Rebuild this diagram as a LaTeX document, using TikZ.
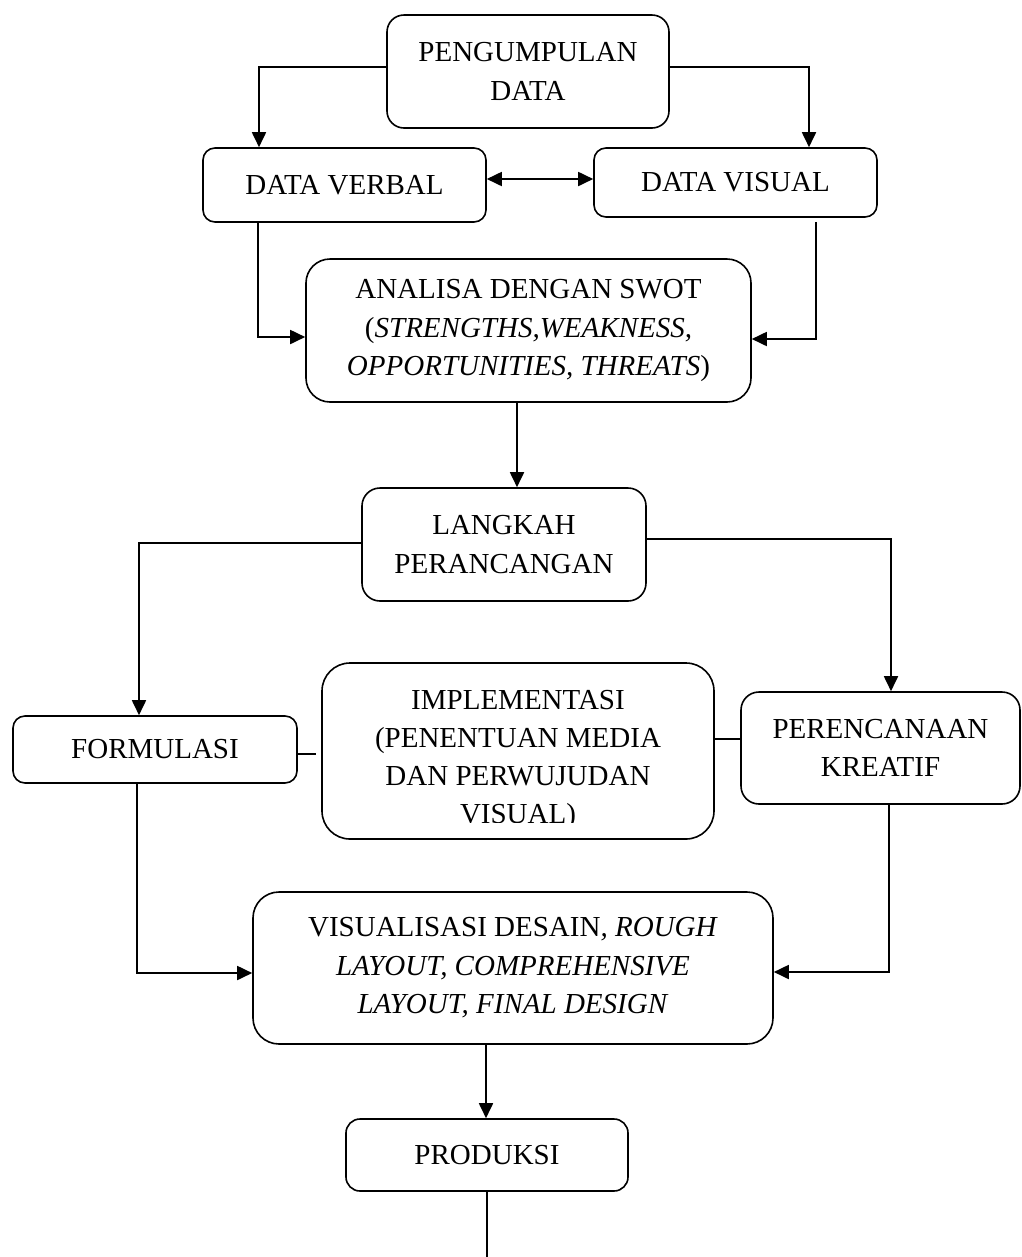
\documentclass[tikz,border=0pt]{standalone}
\usepackage{fontspec}
\setmainfont{Liberation Serif}
\usetikzlibrary{arrows.meta}
\tikzset{
  box/.style={draw, line width=1.6bp, align=center, inner sep=0pt,
    font=\fontsize{29bp}{38.5bp}\selectfont},
  txt/.style={align=center, inner sep=0pt, font=\fontsize{29bp}{38.2bp}\selectfont},
  conn/.style={line width=1.8bp},
  arr/.style={conn, -{Triangle[length=15bp,width=14bp]}},
  darr/.style={conn, {Triangle[length=15bp,width=14bp]}-{Triangle[length=15bp,width=14bp]}}
}
\begin{document}
\begin{tikzpicture}[x=1bp,y=-1bp]
\useasboundingbox (0,0) rectangle (1022,1257);
% boxes
\node[box, rounded corners=17bp, minimum width=282bp, minimum height=113bp] (pd) at (528,71.5) {PENGUMPULAN\\DATA};
\node[box, rounded corners=12bp, minimum width=283bp, minimum height=74bp] (dverb) at (344.5,185) {DATA VERBAL};
\node[box, rounded corners=12bp, minimum width=283bp, minimum height=69bp] (dvis) at (735.5,182.5) {DATA VISUAL};
\node[box, rounded corners=24bp, minimum width=445bp, minimum height=143bp] (swot) at (528.5,330.5)
  {ANALISA DENGAN SWOT\\(\textit{STRENGTHS,WEAKNESS,}\\\textit{OPPORTUNITIES, THREATS})};
\node[box, rounded corners=18bp, minimum width=284bp, minimum height=113bp] (lang) at (504,544.5) {LANGKAH\\PERANCANGAN};
\node[box, rounded corners=12bp, minimum width=284bp, minimum height=67bp] (form) at (155,749.5) {FORMULASI};
\node[box, rounded corners=28bp, minimum width=392bp, minimum height=176bp] (impl) at (518,751) {};
\begin{scope}
  \clip (322,663) rectangle (714,822);
  \node[txt] (impltext) at (518,760) {IMPLEMENTASI\\(PENENTUAN MEDIA\\DAN PERWUJUDAN\\VISUAL)};
\end{scope}
\node[box, rounded corners=18bp, minimum width=279bp, minimum height=112bp] (peren) at (880.5,748) {PERENCANAAN\\KREATIF};
\node[box, rounded corners=26bp, minimum width=520bp, minimum height=152bp] (vis) at (513,968)
  {VISUALISASI DESAIN\textit{, ROUGH}\\\textit{LAYOUT, COMPREHENSIVE}\\\textit{LAYOUT, FINAL DESIGN}};
\node[box, rounded corners=14bp, minimum width=282bp, minimum height=72bp] (prod) at (487,1155) {PRODUKSI};
\coordinate (out) at (487,1257);
% connectors
\draw[arr] ([yshift=4.5bp]pd.west) -| ([xshift=-85.5bp]dverb.north);
\draw[arr] ([yshift=4.5bp]pd.east) -| ([xshift=73.5bp]dvis.north);
\draw[darr] ([yshift=6bp]dverb.east) -- ([yshift=3.5bp]dvis.west);
\draw[arr] ([xshift=-86.5bp]dverb.south) |- ([yshift=-6.5bp]swot.west);
\draw[arr, shorten <=4bp] ([xshift=80.5bp]dvis.south) |- ([yshift=-8.5bp]swot.east);
\draw[arr] ([xshift=-11.5bp]swot.south) -- ([xshift=13bp]lang.north);
\draw[arr] ([yshift=1.5bp]lang.west) -| ([xshift=-16bp]form.north);
\draw[arr] ([yshift=5.5bp]lang.east) -| ([xshift=10.5bp]peren.north);
\draw[conn, shorten >=5bp] ([yshift=-4.5bp]form.east) -- ([yshift=-3bp]impl.west);
\draw[conn] ([yshift=12bp]impl.east) -- ([yshift=9bp]peren.west);
\draw[arr] ([xshift=-18bp]form.south) |- ([yshift=-5bp]vis.west);
\draw[arr] ([xshift=8.5bp]peren.south) |- ([yshift=-4bp]vis.east);
\draw[arr] ([xshift=-27bp]vis.south) -- ([xshift=-1bp]prod.north);
\draw[conn] (prod.south) -- (out);
\end{tikzpicture}
\end{document}
